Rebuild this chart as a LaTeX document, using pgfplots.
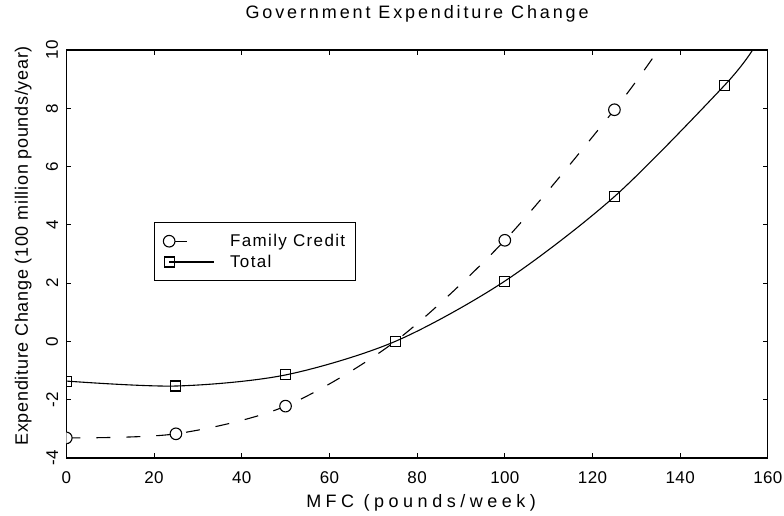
\documentclass[border=0pt]{standalone}
\usepackage{fontspec}
\setmainfont{Liberation Sans}
\newfontfamily\titlefont[LetterSpace=16]{Liberation Sans}
\newfontfamily\xlabfont[LetterSpace=25]{Liberation Sans}
\newfontfamily\ylabfont[LetterSpace=4]{Liberation Sans}
\newfontfamily\tickfont[LetterSpace=2]{Liberation Sans}
\newfontfamily\legfont[LetterSpace=8]{Liberation Sans}
\usepackage{pgfplots}
\pgfplotsset{compat=1.18}
\begin{document}
\begin{tikzpicture}
\begin{axis}[
  scale only axis, width=701.6bp, height=408bp,
  xmin=0, xmax=160, ymin=-4, ymax=10,
  xtick={0,20,...,160}, ytick={-4,-2,...,10},
  tick align=inside, major tick length=5bp,
  axis line style={line width=1.1bp},
  every tick/.style={black, line width=1bp},
  clip marker paths=true,
  /pgf/number format/assume math mode=true,
  ticklabel style={font=\tickfont\fontsize{17bp}{19bp}\selectfont},
  xticklabel style={anchor=north, inner xsep=0pt, inner ysep=0pt, yshift=-13bp},
  yticklabel style={rotate=90, anchor=south, inner xsep=0pt, inner ysep=8bp},
  title={\titlefont Government Expenditure Change},
  title style={at={(0.5,1.0637)}, anchor=base, inner sep=0pt, font=\fontsize{18bp}{20bp}\selectfont},
  xlabel={\xlabfont MFC (pounds/week)},
  xlabel style={at={(0.5056,-0.1201)}, anchor=base, inner sep=0pt, font=\fontsize{18bp}{20bp}\selectfont},
  ylabel={\ylabfont Expenditure Change (100 million pounds/year)},
  ylabel style={at={(-0.0546,0.52)}, rotate=0, anchor=base, inner sep=0pt, font=\fontsize{18bp}{20bp}\selectfont},
  legend style={at={(0.1254,0.579)}, anchor=north west, draw=black, line width=1.1bp,
    inner xsep=8bp, inner ysep=10bp, row sep=3bp, column sep=14bp,
    font=\legfont\fontsize{17bp}{19bp}\selectfont},
  legend cell align=left,
]
\addlegendimage{legend image code/.code={
  \draw[black, line width=1.1bp] (6bp,0bp) -- (18bp,0bp);
  \draw[black, line width=1.1bp, fill=white] (0bp,0bp) circle (5.8bp);}}
\addlegendentry{Family Credit}
\addlegendimage{legend image code/.code={
  \draw[black, line width=1.1bp] (0bp,0bp) -- (44.4bp,0bp);
  \draw[black, line width=1.1bp] (-5bp,-5bp) rectangle (5bp,5bp);}}
\addlegendentry{Total}

\addplot[black, line width=1.1bp, dash pattern=on 14bp off 16bp, smooth, forget plot,
  mark=*, mark size=5.8bp, mark options={solid, fill=white, draw=black}, mark indices={1,2,3,5,6}]
  coordinates {(0,-3.31) (25,-3.17) (50,-2.22) (75,0) (100,3.47) (125,7.95) (135,10)};
\addplot[black, line width=1.1bp, smooth, forget plot,
  mark=square, mark size=5bp, mark options={solid}, mark indices={1,2,3,4,5,6,7}]
  coordinates {(0,-1.36) (25,-1.53) (50,-1.15) (75,0) (100,2.07) (125,4.97) (150,8.77) (156.5,10)};
\end{axis}
\pgfresetboundingbox
\path[use as bounding box] (-66.3bp,-58bp) rectangle (717.7bp,458bp);
\end{tikzpicture}
\end{document}
